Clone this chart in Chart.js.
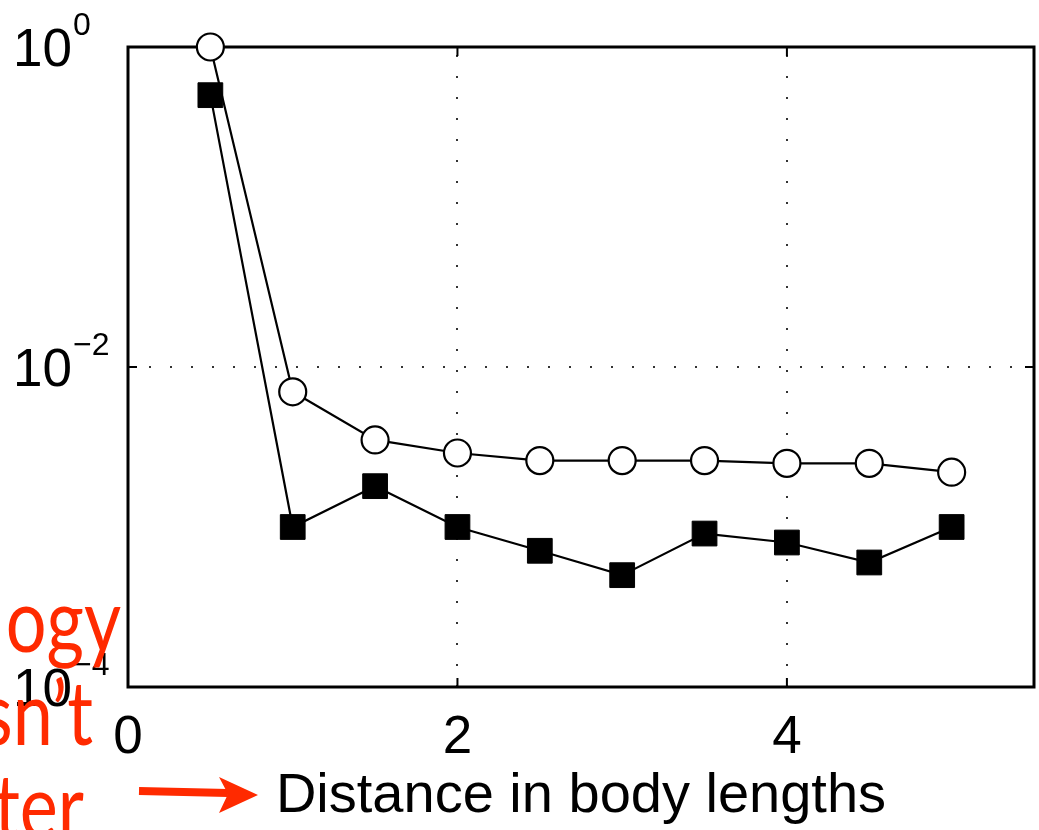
<!DOCTYPE html>
<html>
<head>
<meta charset="utf-8">
<script src="https://cdn.jsdelivr.net/npm/chart.js@4"></script>
<style>
  html, body { margin: 0; padding: 0; background: #fff; overflow: hidden; }
  canvas { display: block; }
</style>
</head>
<body>
<canvas id="decayChart" width="1039" height="830"></canvas>
<script>
// distance in body lengths
const distances = [0.5, 1, 1.5, 2, 2.5, 3, 3.5, 4, 4.5, 5];
// open circles
const circleValues = [1, 0.0070, 0.0035, 0.0029, 0.0026, 0.0026, 0.0026, 0.0025, 0.0025, 0.0022];
// filled squares
const squareValues = [0.50, 0.0010, 0.0018, 0.0010, 0.00071, 0.00050, 0.00091, 0.00080, 0.00060, 0.0010];
const xTicks = [0, 2, 4];
const yTicks = [1e-4, 1e-2, 1];
const yExponents = ['\u22124', '\u22122', '0'];
const overlayWords = ['ogy', 'sn\u2019t', 'ter'];

const font = 'Liberation Sans, Arial, Helvetica, sans-serif';
const red = '#ff2a00';

const boxPlugin = {
    id: 'box',
    beforeDatasetsDraw(chart) {
        const ctx = chart.ctx;
        const a = chart.chartArea;
        const xs = chart.scales.x, ys = chart.scales.y;
        ctx.save();
        // dotted grid
        ctx.strokeStyle = '#333';
        ctx.lineWidth = 2;
        ctx.setLineDash([2, 19]);
        xTicks.forEach(v => {
            const px = Math.round(xs.getPixelForValue(v));
            if (px <= a.left + 2 || px >= a.right - 2) return;
            ctx.beginPath(); ctx.moveTo(px, a.bottom); ctx.lineTo(px, a.top); ctx.stroke();
        });
        yTicks.forEach(v => {
            const py = Math.round(ys.getPixelForValue(v));
            if (py <= a.top + 2 || py >= a.bottom - 2) return;
            ctx.beginPath(); ctx.moveTo(a.left, py); ctx.lineTo(a.right, py); ctx.stroke();
        });
        ctx.setLineDash([]);
        // box
        ctx.strokeStyle = '#000';
        ctx.lineWidth = 3;
        ctx.strokeRect(a.left, a.top, a.right - a.left, a.bottom - a.top);
        // inward ticks
        ctx.lineWidth = 2;
        const tl = 9;
        xTicks.forEach(v => {
            const px = xs.getPixelForValue(v);
            ctx.beginPath();
            ctx.moveTo(px, a.bottom); ctx.lineTo(px, a.bottom - tl);
            ctx.moveTo(px, a.top); ctx.lineTo(px, a.top + tl);
            ctx.stroke();
        });
        yTicks.forEach(v => {
            const py = ys.getPixelForValue(v);
            ctx.beginPath();
            ctx.moveTo(a.left, py); ctx.lineTo(a.left + tl, py);
            ctx.moveTo(a.right, py); ctx.lineTo(a.right - tl, py);
            ctx.stroke();
        });
        // tick labels
        ctx.fillStyle = '#000';
        ctx.textBaseline = 'alphabetic';
        ctx.font = '53px ' + font;
        ctx.textAlign = 'center';
        xTicks.forEach(v => {
            ctx.fillText(String(v), xs.getPixelForValue(v), a.bottom + 66);
        });
        yTicks.forEach((v, i) => {
            const py = ys.getPixelForValue(v);
            ctx.font = '53px ' + font;
            ctx.textAlign = 'right';
            ctx.fillText('10', 72, py + 19);
            ctx.font = '32px ' + font;
            ctx.textAlign = 'left';
            ctx.fillText(yExponents[i], 73, py - 12);
        });
        ctx.restore();
    },
    afterDraw(chart) {
        const ctx = chart.ctx;
        ctx.save();
        // red slide text bleeding in from the left
        ctx.fillStyle = red;
        ctx.font = '90px Lato, "Open Sans", sans-serif';
        ctx.textAlign = 'right';
        ctx.textBaseline = 'alphabetic';
        const rows = [[121, 652], [93, 745], [84, 838]];
        overlayWords.forEach((w, i) => {
            ctx.save();
            ctx.translate(rows[i][0], rows[i][1]);
            ctx.scale(0.8, 1);
            ctx.fillText(w, 0, 0);
            ctx.restore();
        });
        // arrow
        ctx.strokeStyle = red;
        ctx.lineWidth = 8;
        ctx.beginPath();
        ctx.moveTo(139, 791); ctx.lineTo(228, 793);
        ctx.stroke();
        ctx.beginPath();
        ctx.moveTo(258, 795); ctx.lineTo(219, 777); ctx.lineTo(228, 794); ctx.lineTo(219, 813);
        ctx.closePath();
        ctx.fill();
        ctx.restore();
    }
};

const ctx = document.getElementById('decayChart').getContext('2d');
const decayChart = new Chart(ctx, {
    type: 'line',
    plugins: [boxPlugin],
    data: {
        labels: distances,
        datasets: [
            {
                data: distances.map((d, i) => ({x: d, y: squareValues[i]})),
                borderColor: '#000',
                borderWidth: 2.2,
                pointStyle: 'rect',
                pointRadius: 17.5,
                pointBackgroundColor: '#000',
                pointBorderColor: '#000',
                pointBorderWidth: 1,
                fill: false,
                tension: 0,
                clip: false,
            },
            {
                data: distances.map((d, i) => ({x: d, y: circleValues[i]})),
                borderColor: '#000',
                borderWidth: 2.2,
                pointStyle: 'circle',
                pointRadius: 13.5,
                pointBackgroundColor: '#fff',
                pointBorderColor: '#000',
                pointBorderWidth: 2.2,
                fill: false,
                tension: 0,
                clip: false,
            },
        ],
    },
    options: {
        responsive: false,
        animation: false,
        events: [],
        layout: {
            autoPadding: false,
            padding: { top: 47, right: 5, left: 0, bottom: 0 },
        },
        plugins: {
            legend: { display: false },
            tooltip: { enabled: false },
        },
        scales: {
            x: {
                type: 'linear',
                min: 0,
                max: 5.5,
                afterBuildTicks: scale => { scale.ticks = xTicks.map(v => ({value: v})); },
                afterFit: scale => { scale.height = 143; },
                grid: { display: false, drawTicks: false },
                border: { display: false },
                ticks: { display: false },
                title: {
                    display: true,
                    text: 'Distance in body lengths',
                    color: '#000',
                    font: { family: font, size: 56 },
                    padding: { top: 0, bottom: 0 },
                },
            },
            y: {
                type: 'logarithmic',
                min: 1e-4,
                max: 1,
                afterBuildTicks: scale => { scale.ticks = yTicks.map(v => ({value: v})); },
                afterFit: scale => { scale.width = 128; },
                grid: { display: false, drawTicks: false },
                border: { display: false },
                ticks: { display: false },
            },
        },
    },
});
</script>
</body>
</html>
